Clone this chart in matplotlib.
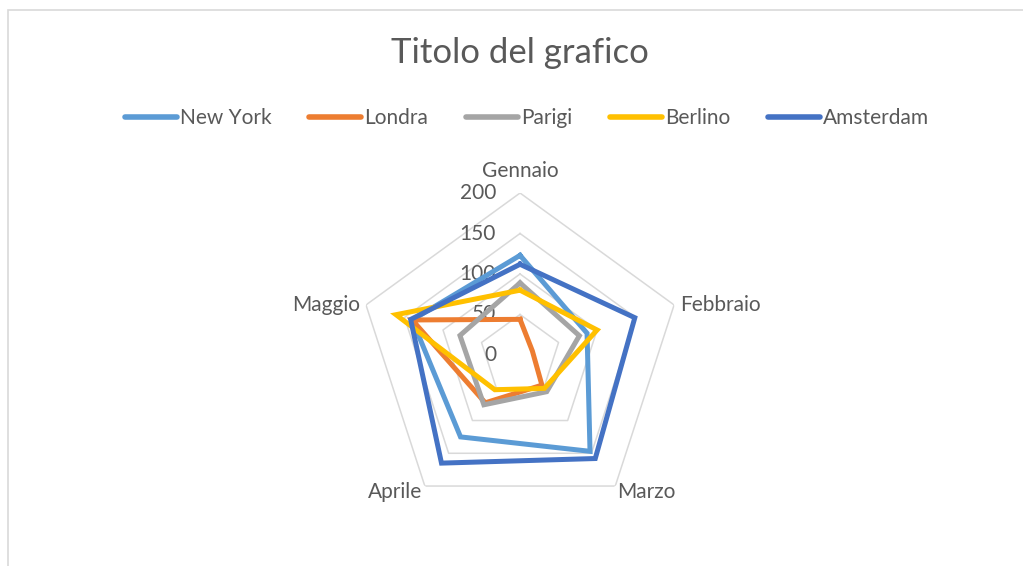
import matplotlib
matplotlib.use("Agg")
import matplotlib.pyplot as plt
import numpy as np
from matplotlib.patches import Rectangle
from matplotlib.transforms import offset_copy

categories = ['Gennaio', 'Febbraio', 'Marzo', 'Aprile', 'Maggio']
series_names = ['New York', 'Londra', 'Parigi', 'Berlino', 'Amsterdam']
new_york = [123, 87, 147, 125, 140]
londra = [44, 16, 46, 73, 140]
parigi = [89, 77, 56, 76, 78]
berlino = [80, 100, 51, 53, 161]
amsterdam = [112, 149, 158, 165, 142]
levels = [0, 50, 100, 150, 200]

colors = ['#5B9BD5', '#ED7D31', '#A5A5A5', '#FFC000', '#4472C4']
text_color = '#595959'
plt.rcParams['font.family'] = ['Lato', 'DejaVu Sans']

fig = plt.figure(figsize=(10.23, 5.66), dpi=100)
fig.patches.append(Rectangle((8 / 1023, -0.01), 1.1, (566 - 10) / 566 + 0.01,
                             transform=fig.transFigure, fill=False,
                             edgecolor='#D9D9D9', linewidth=1.2))

ax = fig.add_axes([0.35, 0.0866, 0.3167, 0.5724], projection='polar')
ax.set_theta_offset(np.pi / 2)
ax.set_theta_direction(-1)
ax.set_ylim(0, 200)
ax.grid(False)
ax.spines['polar'].set_visible(False)
ax.set_xticks([])
ax.set_yticks([])
ax.patch.set_alpha(0)

n = len(categories)
angles = np.linspace(0, 2 * np.pi, n, endpoint=False)
closed = np.append(angles, angles[0])

# pentagon grid
for lv in levels[1:]:
    ax.plot(closed, [lv] * (n + 1), color='#D9D9D9', linewidth=1.1, zorder=1)

data = [new_york, londra, parigi, berlino, amsterdam]
for name, vals, c in zip(series_names, data, colors):
    ax.plot(closed, list(vals) + [vals[0]], color=c, linewidth=3.6,
            solid_joinstyle='miter', label=name, zorder=3)

# radial value labels
lab_tr = offset_copy(ax.transData, fig=fig, x=-24, y=0, units='dots')
for lv in levels:
    ax.text(0, lv, str(lv), transform=lab_tr, ha='right', va='center',
            fontsize=15, color=text_color, zorder=2)

# category labels
offsets = [(0, 22, 'center', 'center'), (6, 0, 'left', 'center'),
           (2, -6, 'left', 'center'), (-3, -6, 'right', 'center'),
           (-6, 0, 'right', 'center')]
for ang, cat, (dx, dy, ha, va) in zip(angles, categories, offsets):
    tr = offset_copy(ax.transData, fig=fig, x=dx, y=dy, units='dots')
    ax.text(ang, 200, cat, transform=tr, ha=ha, va=va, fontsize=15,
            color=text_color)

fig.text(0.508, 1 - 53 / 566, 'Titolo del grafico', ha='center', va='center',
         fontsize=25, color=text_color)

leg = fig.legend(loc='center', bbox_to_anchor=(0.515, 1 - 118 / 566), ncol=5,
                 frameon=False, fontsize=15, handlelength=2.5, handletextpad=0.15,
                 columnspacing=1.8, labelcolor=text_color)
for h in leg.get_lines():
    h.set_linewidth(4.0)
    h.set_solid_capstyle('round')

fig.savefig('out.png', dpi=100)
